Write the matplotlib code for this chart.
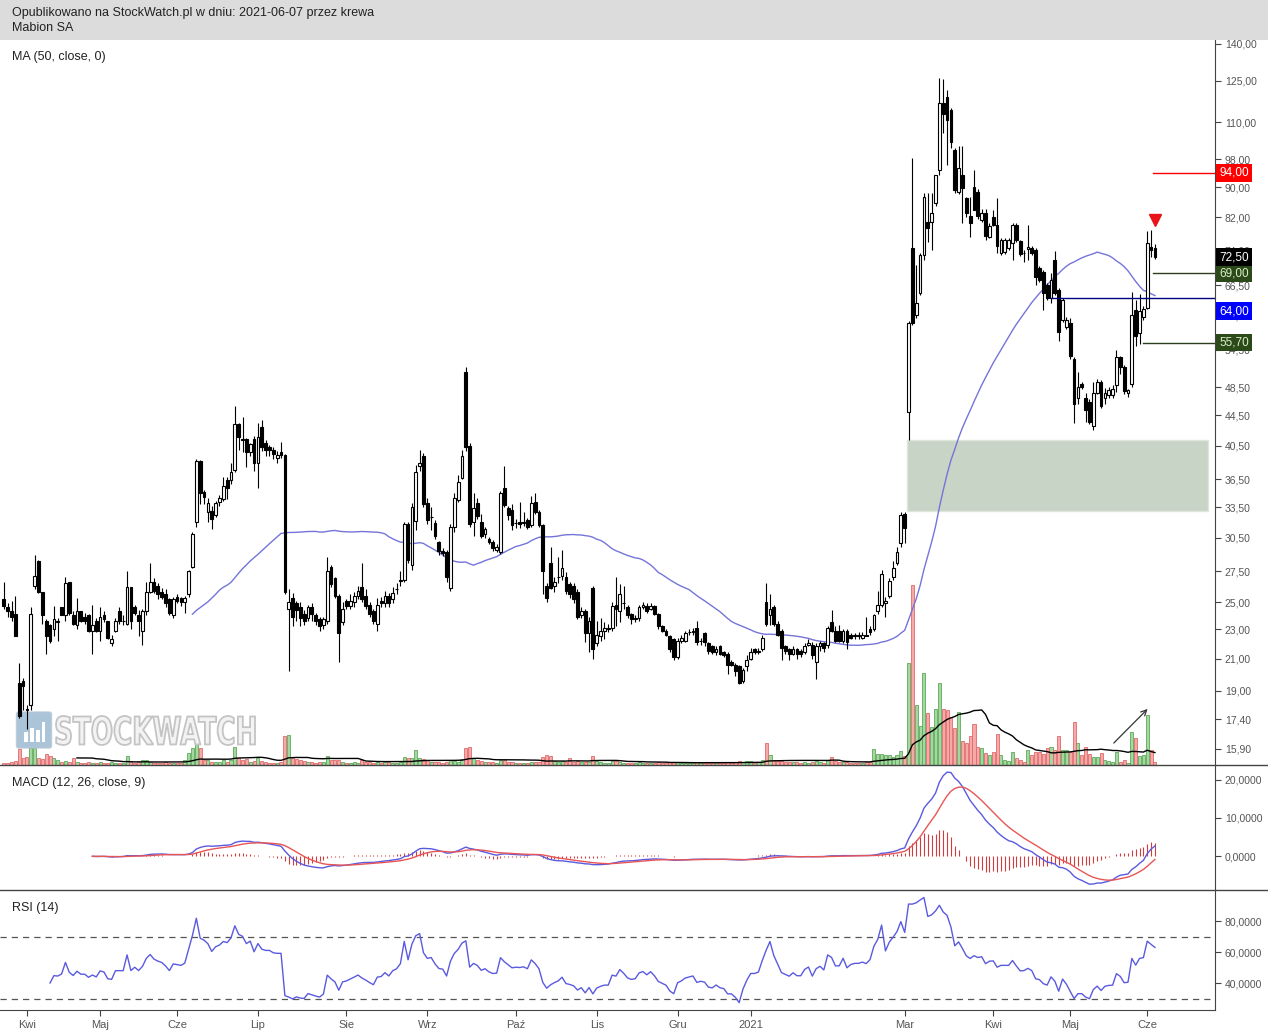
import matplotlib

matplotlib.use("Agg")
import matplotlib.pyplot as plt
import numpy as np
import pandas as pd
from matplotlib.font_manager import FontProperties
from matplotlib.lines import Line2D
from matplotlib.patches import FancyBboxPatch, PathPatch, Rectangle
from matplotlib.textpath import TextPath
from matplotlib.ticker import FixedLocator, NullLocator
from matplotlib.transforms import Affine2D, IdentityTransform

plt.rcParams["font.family"] = ["Liberation Sans", "DejaVu Sans"]

W, H = 1268, 1030

# daily candles, Mabion SA, 2020-03-24 .. 2021-06-07
opens = [
    25.2, 24.6, 24.3, 24.1, 19.5, 19.6, 18.0, 18.2, 26.3, 28.4,
    25.8, 23.6, 23.3, 23.0, 23.5, 24.6, 24.0, 26.6, 24.0, 23.3,
    24.3, 23.9, 24.0, 22.9, 23.6, 22.9, 24.0, 23.6, 22.0, 22.9,
    24.3, 23.6, 23.4, 26.2, 24.6, 24.0, 22.9, 24.3, 25.8, 26.6,
    26.3, 25.8, 25.6, 25.2, 24.0, 25.4, 25.3, 25.0, 25.6, 27.9,
    32.0, 38.6, 35.1, 33.0, 33.1, 32.7, 34.1, 34.4, 36.4, 36.4,
    37.6, 43.3, 41.4, 41.3, 39.7, 41.3, 38.4, 42.9, 40.8, 40.3,
    40.0, 39.0, 39.7, 39.4, 24.5, 25.3, 24.9, 24.6, 24.1, 23.8,
    24.6, 24.0, 23.7, 23.3, 23.6, 27.9, 26.9, 25.5, 23.5, 25.1,
    24.7, 25.0, 25.5, 26.2, 25.5, 24.8, 24.3, 23.4, 25.1, 24.9,
    25.5, 25.2, 26.0, 26.7, 26.8, 31.8, 28.0, 32.1, 38.1, 39.3,
    33.9, 32.5, 31.9, 30.1, 29.3, 29.2, 26.1, 31.5, 34.3, 36.7,
    50.9, 40.5, 32.0, 33.9, 32.0, 30.8, 30.4, 30.1, 29.4, 29.2,
    35.5, 33.4, 33.2, 31.9, 32.0, 31.9, 32.2, 31.7, 34.0, 33.0,
    31.7, 26.3, 28.2, 26.3, 27.0, 27.1, 27.0, 26.4, 26.3, 25.8,
    24.0, 24.3, 22.7, 26.1, 22.0, 22.5, 22.9, 23.0, 23.1, 24.8,
    24.3, 24.9, 24.6, 24.1, 23.7, 23.8, 24.6, 24.7, 24.5, 24.7,
    24.1, 23.2, 22.9, 22.5, 22.3, 21.1, 22.2, 22.2, 22.8, 22.8,
    23.1, 22.2, 22.7, 22.0, 21.8, 21.4, 21.8, 21.4, 21.3, 20.8,
    20.6, 20.5, 19.6, 20.5, 21.0, 21.6, 21.4, 21.6, 25.0, 24.0,
    24.6, 23.4, 22.9, 21.8, 21.6, 21.3, 21.6, 21.5, 21.4, 21.9,
    21.9, 20.8, 21.8, 22.0, 21.9, 23.5, 22.9, 22.9, 22.2, 22.9,
    22.6, 22.6, 22.6, 22.4, 22.6, 23.0, 23.0, 24.3, 24.8, 24.9,
    25.5, 27.0, 28.2, 30.0, 32.8, 44.9, 74.6, 60.6, 64.9, 73.0,
    80.8, 80.8, 85.7, 94.9, 116.7, 119.0, 114.2, 100.9, 88.6, 93.5,
    87.0, 82.2, 90.0, 88.7, 81.3, 83.1, 77.1, 82.1, 80.0, 73.4,
    73.6, 74.6, 75.8, 80.0, 76.1, 73.5, 74.4, 74.6, 74.1, 70.1,
    69.3, 66.6, 63.9, 71.9, 65.5, 59.7, 58.4, 59.2, 52.9, 47.0,
    49.0, 47.0, 46.3, 43.0, 47.7, 49.3, 46.9, 47.4, 47.3, 48.8,
    53.3, 51.7, 47.6, 49.0, 61.6, 57.4, 60.2, 62.0, 74.7, 74.6,
]
highs = [
    26.6, 24.9, 25.1, 25.5, 20.7, 19.8, 18.2, 24.6, 28.9, 28.5,
    25.8, 23.7, 23.4, 24.7, 23.8, 24.6, 27.0, 26.6, 24.3, 25.3,
    24.3, 24.2, 24.1, 24.8, 23.8, 24.6, 24.3, 23.6, 22.6, 23.8,
    24.6, 24.0, 27.5, 26.2, 24.8, 24.4, 24.5, 26.6, 28.2, 26.9,
    26.5, 26.1, 26.0, 25.3, 25.4, 25.6, 25.4, 25.5, 27.6, 31.0,
    38.9, 38.8, 35.3, 34.5, 33.6, 34.2, 34.8, 36.8, 36.8, 38.4,
    45.8, 43.5, 44.2, 41.5, 40.9, 41.8, 43.5, 43.9, 41.2, 40.6,
    40.3, 39.8, 41.0, 39.5, 26.0, 25.7, 25.1, 25.0, 24.4, 24.8,
    24.9, 24.2, 23.9, 23.9, 28.7, 28.0, 27.0, 25.6, 25.0, 25.2,
    25.6, 25.8, 26.3, 28.2, 26.0, 25.0, 24.5, 25.3, 25.4, 25.9,
    25.7, 26.2, 26.5, 27.5, 32.0, 32.0, 33.9, 38.2, 40.0, 39.6,
    34.5, 33.5, 32.2, 30.2, 29.5, 29.4, 31.8, 35.0, 37.0, 40.0,
    51.7, 40.8, 35.0, 34.5, 32.8, 31.5, 30.6, 30.3, 29.9, 35.2,
    38.0, 33.6, 33.8, 32.3, 34.0, 33.0, 32.4, 34.7, 35.0, 33.2,
    31.8, 26.5, 29.6, 27.0, 28.7, 29.4, 27.4, 26.6, 26.5, 26.0,
    24.6, 24.5, 23.9, 26.3, 23.6, 23.8, 23.5, 23.4, 25.0, 27.0,
    26.4, 26.3, 24.8, 24.2, 24.0, 24.8, 25.0, 24.9, 24.9, 24.8,
    24.2, 23.3, 23.0, 22.6, 22.4, 22.4, 22.6, 22.9, 23.0, 23.1,
    23.6, 22.4, 22.8, 22.1, 21.9, 21.8, 21.9, 21.5, 21.4, 20.9,
    20.7, 20.6, 20.4, 21.2, 21.7, 21.7, 21.7, 22.6, 26.5, 25.6,
    24.8, 23.6, 23.0, 21.9, 21.7, 21.8, 21.7, 21.6, 22.0, 22.3,
    22.1, 22.0, 22.2, 22.1, 23.2, 24.4, 23.2, 23.3, 23.0, 23.0,
    22.7, 22.7, 22.8, 22.8, 23.9, 23.2, 24.1, 25.9, 27.6, 25.4,
    26.9, 28.4, 29.6, 33.0, 33.0, 59.5, 98.5, 70.8, 73.5, 88.5,
    88.5, 88.5, 93.5, 126.1, 125.8, 121.5, 115.0, 101.5, 102.3, 102.3,
    87.3, 87.3, 94.9, 89.5, 84.0, 84.0, 80.5, 83.9, 87.0, 77.0,
    77.0, 77.0, 80.5, 80.5, 76.5, 74.1, 80.0, 75.0, 74.5, 70.5,
    69.7, 67.0, 69.0, 73.8, 66.0, 64.0, 60.3, 60.0, 53.3, 50.9,
    49.3, 47.7, 46.8, 49.3, 49.8, 49.6, 48.4, 48.5, 48.8, 54.4,
    53.5, 52.0, 48.3, 65.0, 63.5, 64.7, 62.4, 78.7, 78.9, 75.5,
]
lows = [
    24.5, 23.9, 23.6, 22.5, 17.5, 17.9, 16.9, 17.9, 26.0, 25.7,
    23.4, 21.3, 22.0, 22.5, 22.2, 24.0, 23.6, 24.0, 23.3, 23.0,
    23.5, 23.4, 22.8, 21.3, 22.8, 22.2, 23.5, 22.3, 21.8, 22.8,
    23.4, 23.3, 23.3, 23.0, 24.0, 22.5, 21.9, 24.0, 25.7, 25.7,
    25.2, 25.2, 24.6, 24.0, 23.8, 24.9, 24.7, 24.2, 25.4, 27.8,
    31.5, 33.8, 33.8, 32.0, 31.3, 32.5, 33.6, 34.2, 34.4, 36.0,
    37.3, 40.0, 39.7, 37.9, 39.2, 37.5, 35.6, 39.8, 39.3, 39.2,
    38.9, 38.4, 39.0, 25.6, 20.2, 23.2, 23.6, 23.2, 23.3, 23.6,
    23.6, 23.3, 22.9, 23.0, 23.4, 26.2, 25.3, 20.8, 23.3, 24.5,
    24.5, 24.6, 25.2, 25.0, 24.5, 23.9, 23.4, 22.9, 24.6, 24.6,
    24.6, 24.9, 25.6, 26.3, 26.6, 28.2, 27.6, 31.2, 37.5, 33.5,
    31.8, 31.2, 30.4, 28.9, 28.8, 26.6, 25.9, 31.0, 34.0, 36.5,
    39.8, 31.5, 30.7, 32.3, 30.5, 30.5, 29.9, 29.3, 29.2, 29.0,
    33.5, 32.2, 31.2, 31.4, 31.4, 31.6, 31.3, 31.5, 32.8, 31.5,
    25.6, 25.0, 26.0, 25.8, 26.5, 26.8, 25.6, 25.3, 24.9, 23.7,
    23.8, 22.1, 21.4, 21.0, 21.8, 22.2, 22.3, 22.8, 22.9, 23.2,
    23.5, 24.5, 23.8, 23.4, 23.5, 23.6, 24.5, 24.2, 24.4, 24.0,
    23.0, 22.8, 22.5, 21.4, 20.9, 21.0, 22.0, 22.1, 22.6, 22.6,
    21.9, 21.9, 21.8, 21.3, 21.3, 21.2, 21.2, 21.1, 20.0, 20.5,
    19.9, 19.4, 19.5, 20.2, 20.9, 21.3, 21.3, 21.5, 23.2, 23.3,
    23.2, 22.5, 20.9, 21.3, 20.9, 21.2, 21.0, 21.1, 21.3, 21.8,
    21.0, 19.7, 21.5, 21.4, 21.7, 22.8, 22.1, 22.1, 22.0, 21.6,
    22.3, 22.3, 22.3, 22.3, 22.5, 22.6, 22.9, 24.1, 24.6, 23.9,
    25.3, 26.8, 28.0, 29.6, 30.0, 41.2, 58.8, 60.1, 64.5, 71.9,
    75.9, 74.1, 85.0, 93.5, 106.4, 96.4, 101.6, 88.5, 88.0, 80.5,
    82.0, 77.1, 83.9, 81.5, 80.8, 76.5, 76.8, 79.7, 73.4, 73.0,
    73.2, 74.0, 71.9, 76.0, 72.8, 71.5, 71.9, 73.0, 66.6, 67.2,
    61.6, 63.5, 62.9, 64.5, 55.9, 59.3, 58.0, 53.0, 43.4, 46.1,
    48.2, 43.6, 43.3, 42.5, 47.5, 45.5, 46.1, 47.0, 47.0, 47.8,
    50.6, 47.5, 47.1, 48.5, 55.1, 55.4, 59.8, 61.8, 72.6, 72.0,
]
closes = [
    24.7, 24.3, 23.9, 22.5, 17.6, 19.3, 17.9, 24.1, 27.1, 25.8,
    24.0, 22.5, 22.2, 23.7, 23.6, 24.0, 26.5, 24.2, 23.4, 24.3,
    23.6, 23.6, 22.9, 23.3, 22.9, 23.9, 23.7, 22.4, 22.3, 23.6,
    23.6, 23.6, 26.2, 23.6, 24.2, 23.6, 24.3, 25.8, 26.6, 25.9,
    25.6, 25.4, 24.9, 24.2, 25.2, 25.1, 25.0, 25.3, 27.5, 30.8,
    38.6, 35.0, 34.6, 33.9, 32.3, 33.9, 34.5, 35.8, 35.6, 37.3,
    43.3, 41.6, 41.2, 39.7, 40.7, 38.4, 41.6, 40.3, 40.0, 40.0,
    39.5, 39.4, 39.4, 25.8, 25.0, 23.9, 24.4, 23.8, 23.6, 24.6,
    24.1, 23.6, 23.2, 23.7, 27.5, 26.4, 25.5, 22.7, 24.5, 24.7,
    25.1, 25.5, 25.9, 25.2, 24.7, 24.1, 23.6, 24.8, 24.9, 25.5,
    24.9, 25.7, 26.0, 26.8, 31.8, 28.5, 33.5, 37.3, 38.4, 33.8,
    32.2, 32.5, 30.7, 29.3, 29.1, 27.0, 31.5, 34.5, 36.2, 39.2,
    40.4, 31.8, 33.4, 32.6, 30.7, 31.3, 30.1, 29.5, 29.6, 35.0,
    33.7, 32.7, 31.7, 31.9, 31.8, 32.0, 31.5, 33.9, 33.0, 31.7,
    27.5, 25.3, 26.1, 26.6, 27.0, 27.8, 25.9, 25.6, 25.2, 23.9,
    24.3, 22.7, 23.6, 21.6, 22.6, 22.9, 23.1, 23.1, 24.7, 24.5,
    25.6, 24.9, 24.0, 23.7, 23.8, 24.6, 24.8, 24.3, 24.7, 24.1,
    23.2, 22.9, 22.6, 21.6, 21.1, 22.2, 22.4, 22.7, 22.8, 22.9,
    22.1, 22.2, 22.1, 21.5, 21.4, 21.6, 21.3, 21.2, 20.6, 20.6,
    20.2, 19.5, 20.3, 20.9, 21.4, 21.4, 21.5, 22.4, 23.4, 24.5,
    23.4, 22.6, 21.7, 21.5, 21.3, 21.6, 21.3, 21.3, 21.8, 22.0,
    21.2, 21.8, 22.0, 21.7, 23.1, 22.9, 22.2, 22.2, 22.9, 22.1,
    22.4, 22.5, 22.5, 22.6, 22.5, 22.8, 24.0, 24.8, 27.3, 25.1,
    26.7, 27.8, 29.2, 32.7, 31.4, 59.2, 59.2, 62.9, 73.0, 87.3,
    79.4, 83.1, 93.5, 116.7, 112.7, 110.7, 103.5, 89.2, 95.5, 89.8,
    83.1, 80.5, 83.9, 82.3, 83.1, 77.3, 79.7, 80.0, 75.0, 76.5,
    76.5, 76.5, 80.0, 76.5, 73.2, 73.4, 74.7, 73.4, 68.2, 67.6,
    64.9, 63.9, 67.6, 64.9, 57.6, 63.5, 59.7, 53.4, 46.1, 48.5,
    48.5, 45.2, 43.6, 47.7, 49.3, 45.8, 47.7, 48.1, 48.2, 53.3,
    51.7, 47.9, 48.1, 60.6, 56.8, 61.3, 61.8, 75.8, 74.1, 72.5,
]
# volume, thousands of shares (relative)
volume = [
    2, 2, 3, 4, 16, 7, 8, 17, 17, 7,
    6, 11, 9, 7, 5, 3, 4, 3, 7, 3,
    2, 2, 3, 2, 2, 3, 2, 2, 3, 2,
    2, 2, 9, 4, 2, 3, 5, 5, 3, 2,
    2, 2, 3, 2, 2, 2, 2, 5, 12, 17,
    21, 17, 5, 5, 3, 3, 3, 5, 3, 5,
    18, 7, 5, 6, 3, 4, 7, 4, 3, 2,
    2, 2, 3, 29, 30, 7, 6, 5, 4, 3,
    3, 2, 3, 3, 9, 5, 5, 5, 3, 2,
    2, 3, 2, 5, 3, 3, 2, 3, 2, 3,
    3, 2, 2, 3, 8, 7, 7, 15, 7, 6,
    5, 3, 3, 3, 2, 3, 5, 4, 3, 6,
    17, 18, 7, 5, 4, 3, 3, 3, 2, 5,
    5, 3, 3, 2, 2, 2, 2, 3, 3, 3,
    8, 10, 9, 4, 3, 4, 3, 7, 3, 4,
    3, 3, 3, 9, 4, 3, 2, 2, 4, 4,
    3, 2, 2, 2, 2, 3, 2, 2, 2, 2,
    3, 2, 2, 3, 3, 3, 2, 2, 2, 2,
    3, 2, 2, 2, 2, 2, 2, 2, 3, 2,
    3, 4, 3, 4, 4, 2, 3, 5, 22, 10,
    5, 4, 4, 3, 3, 3, 3, 2, 3, 2,
    3, 4, 3, 2, 5, 8, 4, 3, 3, 3,
    2, 2, 2, 2, 3, 3, 16, 11, 11, 10,
    10, 8, 10, 14, 9, 102, 180, 60, 39, 92,
    52, 38, 56, 82, 56, 55, 48, 37, 53, 24,
    22, 29, 41, 18, 17, 12, 10, 13, 31, 10,
    5, 4, 13, 7, 5, 3, 15, 10, 13, 13,
    11, 17, 18, 15, 29, 15, 15, 13, 43, 22,
    10, 18, 11, 8, 8, 12, 5, 4, 3, 13,
    3, 5, 2, 33, 27, 9, 10, 50, 15, 3,
]

month_pos = [6, 25, 45, 66, 89, 110, 133, 154, 175, 194, 234, 257, 277, 297]
month_labels = ["Kwi", "Maj", "Cze", "Lip", "Sie", "Wrz", "Paź", "Lis", "Gru",
                "2021", "Mar", "Kwi", "Maj", "Cze"]
price_ticks = [15.9, 17.4, 19.0, 21.0, 23.0, 25.0, 27.5, 30.5, 33.5, 36.5, 40.5,
               44.5, 48.5, 54.5, 60.5, 66.5, 74.0, 82.0, 90.0, 98.0, 110.0, 125.0, 140.0]
macd_ticks = [0, 10, 20]
rsi_ticks = [40, 60, 80]

# drawn levels: price, first bar, line colour, label colour, label text colour
level_prices = [94.0, 69.0, 64.0, 55.7]
level_start = [298.6, 298.5, 272.0, 295.9]
level_line_colors = ["#ff0000", "#2b3f1c", "#000080", "#2b3f1c"]
level_box_colors = ["#ff0000", "#2c4a19", "#0000ff", "#2c4a19"]
level_text_colors = ["white", "#d8f0c8", "white", "#d8f0c8"]
level_label_shift = [0, 0, -10, 0]
gap_zone = (33.1, 41.2)
gap_start = 234.6
signal_bar, signal_price = 298.9, 81.3

o = np.array(opens)
h = np.array(highs)
lo = np.array(lows)
c = np.array(closes)
v = np.array(volume, dtype=float)
n = len(c)
assert len(o) == len(h) == len(lo) == len(v) == n
idx = np.arange(n)
up = c >= o

close_s = pd.Series(c)
ma50 = close_s.rolling(50).mean()
vol_ma = pd.Series(v).rolling(20).mean()
ema12 = close_s.ewm(span=12, adjust=False).mean()
ema26 = close_s.ewm(span=26, adjust=False).mean()
macd = ema12 - ema26
signal = macd.ewm(span=9, adjust=False).mean()
hist = macd - signal
delta = close_s.diff()
gain = delta.clip(lower=0).ewm(alpha=1 / 14, adjust=False).mean()
loss = (-delta.clip(upper=0)).ewm(alpha=1 / 14, adjust=False).mean()
rsi = 100 - 100 / (1 + gain / loss)


def rect(top, bottom, left=0, right=1215):
    return [left / W, 1 - bottom / H, (right - left) / W, (bottom - top) / H]


def fmt(val, digits):
    return f"{val:.{digits}f}".replace(".", ",")


AXIS = "#444444"
LABEL = "#555555"
XLIM = (-1.0, 314.6)

fig = plt.figure(figsize=(W / 100, H / 100), dpi=100)
fig.patch.set_facecolor("white")


def style_right(ax, ticks, digits, labelsize=7.5):
    for side in ("left", "top", "bottom"):
        ax.spines[side].set_visible(False)
    ax.spines["right"].set_color(AXIS)
    ax.yaxis.tick_right()
    ax.yaxis.set_major_locator(FixedLocator(ticks))
    ax.yaxis.set_minor_locator(NullLocator())
    ax.set_yticklabels([fmt(t, digits) for t in ticks])
    ax.tick_params(axis="y", which="major", direction="out", length=4, width=0.8,
                   color=AXIS, labelsize=labelsize, labelcolor=LABEL, pad=3)
    ax.tick_params(axis="x", which="both", bottom=False, labelbottom=False)
    ax.set_xlim(*XLIM)


# volume lives behind the price panel
ax_vol = fig.add_axes(rect(40, 765))
ax_vol.set_xlim(*XLIM)
ax_vol.set_ylim(0, v.max() * 725 / 180)
ax_vol.axis("off")
ax_vol.bar(idx[up], v[up], width=0.8, color="#a3d9a0", edgecolor="#5fa85b", linewidth=0.6)
ax_vol.bar(idx[~up], v[~up], width=0.8, color="#f5a9a9", edgecolor="#e06a6a", linewidth=0.6)
ax_vol.plot(idx, vol_ma, color="black", linewidth=1.0)
ax_vol.annotate("", xy=(297.6, 58), xytext=(287.8, 20),
                arrowprops=dict(arrowstyle="->", color="#333333", lw=0.9))

# watermark (pixel coordinates, drawn behind the candles)
ax_vol.add_patch(FancyBboxPatch((19 / W, 1 - 746 / H), 30 / W, 32 / H,
                                boxstyle="round,pad=0.002", transform=fig.transFigure,
                                facecolor="#8fb0cc", edgecolor="#b8c8d6", alpha=0.75,
                                clip_on=False))
for k, bh in enumerate([10, 14, 12, 20]):
    ax_vol.add_patch(Rectangle(((24 + 6 * k) / W, 1 - 742 / H), 3.5 / W, bh / H,
                               transform=fig.transFigure, facecolor="white",
                               edgecolor="none", clip_on=False))
wm = TextPath((0, 0), "STOCKWATCH", size=40,
              prop=FontProperties(family="DejaVu Sans", weight="bold"))
ext = wm.get_extents()
wm_tr = (Affine2D().translate(-ext.x0, -ext.y0)
         .scale((255 - 56) / ext.width, (745 - 716) / ext.height)
         .translate(56, H - 745) + IdentityTransform())
ax_vol.add_patch(PathPatch(wm, transform=wm_tr, facecolor="#f3f3f3",
                           edgecolor="#c4c4c4", linewidth=1.3, clip_on=False))

# price panel
ax = fig.add_axes(rect(40, 765))
ax.patch.set_visible(False)
ax.set_yscale("log")
ax.set_ylim(15.12, 141.7)
style_right(ax, price_ticks, 2)

ax.add_patch(Rectangle((gap_start, gap_zone[0]), XLIM[1] - 1.8 - gap_start,
                       gap_zone[1] - gap_zone[0], facecolor="#c8d4c5",
                       edgecolor="#dfe6dd", linewidth=1.0, zorder=1))
ax.plot(idx, ma50, color="#7474da", linewidth=1.0, zorder=2)

ax.vlines(idx, lo, h, color="black", linewidth=0.8, zorder=3)
ax.bar(idx[up], (c - o)[up], bottom=o[up], width=0.72, facecolor="white",
       edgecolor="black", linewidth=0.8, zorder=4)
ax.bar(idx[~up], (o - c)[~up], bottom=c[~up], width=0.72, facecolor="black",
       edgecolor="black", linewidth=0.8, zorder=4)

ax.plot([signal_bar], [signal_price], marker="v", markersize=8, color="#e8141a",
        linestyle="none", zorder=5)

ytrans = ax.get_yaxis_transform()
for price, start, lc, bc, tc, shift in zip(level_prices, level_start, level_line_colors,
                                           level_box_colors, level_text_colors,
                                           level_label_shift):
    ax.plot([start, XLIM[1]], [price, price], color=lc, linewidth=1.0, zorder=5)
    ax.annotate(fmt(price, 2), xy=(1.0035, price), xycoords=ytrans,
                xytext=(0, shift), textcoords="offset points", ha="left", va="center",
                fontsize=8.5, color=tc, zorder=10, annotation_clip=False,
                bbox=dict(boxstyle="square,pad=0.25", facecolor=bc, edgecolor="none"))
ax.annotate(fmt(c[-1], 2), xy=(1.0035, c[-1]), xycoords=ytrans, ha="left", va="center",
            fontsize=8.5, color="white", zorder=10, annotation_clip=False,
            bbox=dict(boxstyle="square,pad=0.25", facecolor="black", edgecolor="none"))

# MACD panel
ax_macd = fig.add_axes(rect(765, 890), sharex=ax)
ax_macd.set_ylim(-8.9, 23.9)
style_right(ax_macd, macd_ticks, 4)
start = 23
ax_macd.vlines(idx[start:], 0, hist[start:], color="#d23c3c", linewidth=0.8)
ax_macd.plot(idx[start:], macd[start:], color="#5a5ae0", linewidth=1.0)
ax_macd.plot(idx[start:], signal[start:], color="#e85555", linewidth=1.0)

# RSI panel
ax_rsi = fig.add_axes(rect(890, 1010), sharex=ax)
ax_rsi.set_ylim(22.6, 100)
style_right(ax_rsi, rsi_ticks, 4)
ax_rsi.spines["bottom"].set_visible(True)
ax_rsi.spines["bottom"].set_color(AXIS)
for lvl in (30, 70):
    ax_rsi.axhline(lvl, color="#555555", linewidth=0.9, dashes=(5, 4))
ax_rsi.plot(idx[12:], rsi[12:], color="#5a5ae0", linewidth=1.0)
ax_rsi.set_xticks(month_pos)
ax_rsi.set_xticklabels(month_labels)
ax_rsi.tick_params(axis="x", which="major", bottom=True, labelbottom=True,
                   direction="out", length=4, width=0.8, color=AXIS,
                   labelsize=8, labelcolor=LABEL, pad=3)
ax_rsi.set_xlim(*XLIM)

# header and panel captions
fig.add_artist(Rectangle((0, 1 - 40 / H), 1, 40 / H, transform=fig.transFigure,
                         facecolor="#dcdcdc", edgecolor="none"))
fig.text(12 / W, 1 - 13 / H, "Opublikowano na StockWatch.pl w dniu: 2021-06-07 przez krewa",
         fontsize=9, color="#222222", va="center")
fig.text(12 / W, 1 - 28 / H, "Mabion SA", fontsize=9, color="#222222", va="center")
fig.text(12 / W, 1 - 57 / H, "MA (50, close, 0)", fontsize=9, color="#222222", va="center")
fig.text(12 / W, 1 - 783 / H, "MACD (12, 26, close, 9)", fontsize=9, color="#222222",
         va="center")
fig.text(12 / W, 1 - 908 / H, "RSI (14)", fontsize=9, color="#222222", va="center")
for ypix in (765, 890):
    fig.add_artist(Line2D([0, 1], [1 - ypix / H] * 2, color=AXIS, linewidth=1.0))

fig.savefig("out.png", dpi=100)
